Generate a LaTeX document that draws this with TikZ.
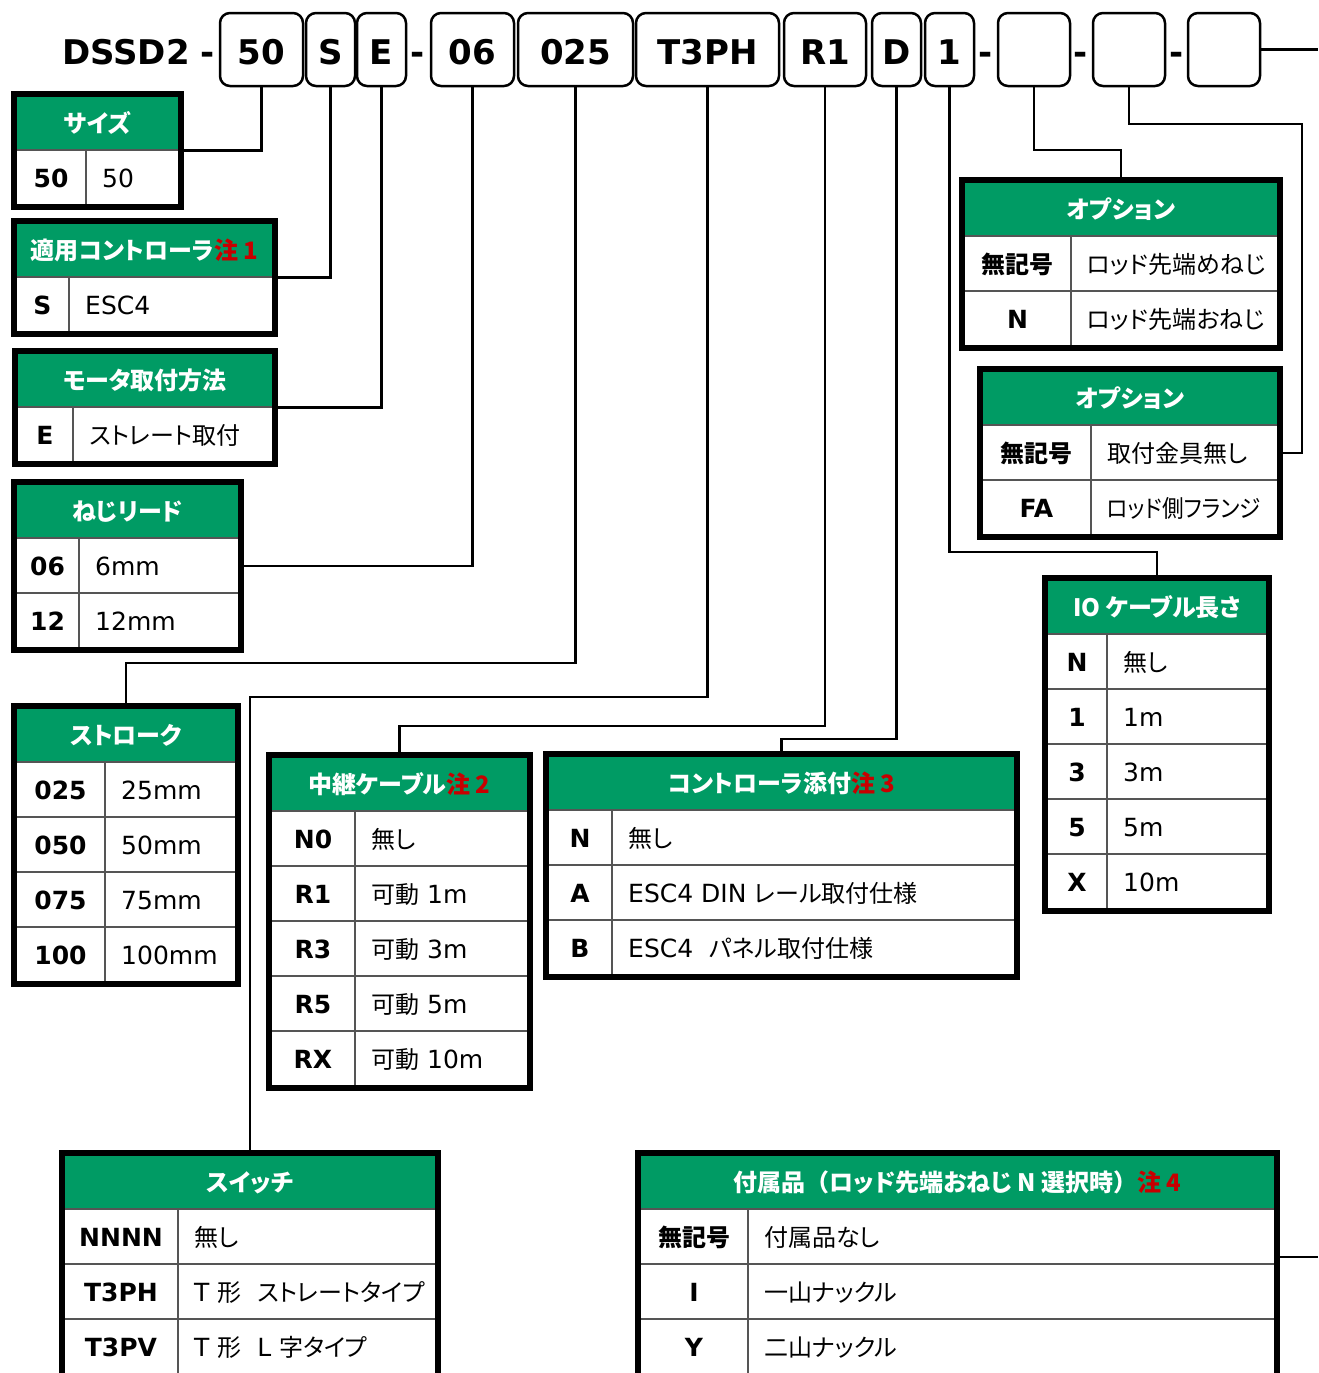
\documentclass[tikz,border=0pt]{standalone}
\usepackage{fontspec}
\usepackage{graphicx}
\setmainfont{DejaVu Sans}
\newfontfamily\jpf{Noto Sans CJK JP}[RawFeature=+palt]
\newfontfamily\jpw{Noto Sans CJK JP}
\newcommand\J[1]{{\jpf\fontsize{24}{28}\selectfont #1}}
\definecolor{hdrgreen}{RGB}{0,155,100}
\definecolor{notered}{RGB}{200,0,0}
\definecolor{gridgrey}{RGB}{85,85,85}
\newcommand\note[1]{\textcolor{notered}{#1}}
\tikzset{
  conn/.style={line width=2.5pt},
  codebox/.style={draw, line width=2.5pt, rounded corners=10pt, minimum height=73pt,
    inner sep=0pt, text height=33pt, text depth=4pt, font=\bfseries\fontsize{34}{40}\selectfont},
  toptext/.style={anchor=base, inner sep=0pt, font=\bfseries\fontsize{34}{40}\selectfont},
  hdrtext/.style={anchor=base, inner sep=0pt, text=white, font=\jpf\bfseries\fontsize{24}{28}\selectfont},
  codetext/.style={anchor=base, inner sep=0pt, font=\bfseries\fontsize{25}{30}\selectfont},
  desctext/.style={anchor=base west, inner sep=0pt, font=\fontsize{25}{30}\selectfont},
  rowline/.style={draw=gridgrey, line width=1.5pt},
  tabframe/.style={draw=none, inner sep=0pt, outer sep=0pt}
}
% #1 name, #2 x1, #3 ytop, #4 x2, #5 column separator x, #6 frame rows, #7 header, #8 rows
\newcommand\spectab[8]{%
  \pgfmathsetmacro\tbBot{#3+64+55*#6}%
  \pgfmathsetmacro\tbW{#4-#2}%
  \pgfmathsetmacro\tbH{\tbBot-#3}%
  \pgfmathsetmacro\tbCx{(#2+#4)/2}%
  \pgfmathsetmacro\tbCy{(#3+\tbBot)/2}%
  \fill[white] (#2,#3) rectangle (#4,\tbBot);
  \fill[hdrgreen] ({#2+5},{#3+5}) rectangle ({#4-5},{#3+59});
  \node[tabframe, minimum width=\tbW pt, minimum height=\tbH pt] (#1) at (\tbCx,\tbCy) {};
  \node[hdrtext] (#1-h) at (\tbCx,{#3+41}) {#7};
  \draw[rowline] ({#2+5},{#3+59}) -- ({#4-5},{#3+59});
  \foreach \kk in {1,...,#6} {
    \draw[rowline] ({#2+5},{#3+59+55*\kk}) -- ({#4-5},{#3+59+55*\kk});
  }
  \draw[rowline] (#5,{#3+59}) -- (#5,{\tbBot-5});
  \foreach \cc/\dd [count=\rr] in {#8} {
    \node[codetext] (#1-c\rr) at ({(#2+5+#5)/2},{#3+59+55*\rr-17.5}) {\cc};
    \node[desctext] (#1-d\rr) at ({#5+16},{#3+59+55*\rr-17.5}) {\dd};
  }
  \draw[line width=6pt] ({#2+3},{#3+3}) rectangle ({#4-3},{\tbBot-3});
}
\begin{document}
\begin{tikzpicture}[x=1pt,y=-1pt]
\useasboundingbox (0,0) rectangle (1318,1373);
\clip (0,0) rectangle (1318,1373);
\fill[white] (0,0) rectangle (1318,1373);

% ---- model code row ----
\node[toptext] (ttl) at (126,64) {DSSD2};
\node[toptext] (dash1) at (208,64) {-};
\node[codebox, minimum width=83pt] (b50) at (261.5,49.5) {50};
\node[codebox, minimum width=49pt] (bS) at (330.5,49.5) {S};
\node[codebox, minimum width=49pt] (bE) at (381.5,49.5) {E};
\node[toptext] (dash2) at (418,64) {-};
\node[codebox, minimum width=83pt] (b06) at (472.5,49.5) {06};
\node[codebox, minimum width=115pt] (b025) at (575.5,49.5) {025};
\node[codebox, minimum width=143pt] (bT3PH) at (707.5,49.5) {T3PH};
\node[codebox, minimum width=82pt] (bR1) at (825,49.5) {R1};
\node[codebox, minimum width=49pt] (bD) at (896.5,49.5) {D};
\node[codebox, minimum width=49pt] (b1) at (949.5,49.5) {1};
\node[toptext] (dash3) at (986,64) {-};
\node[codebox, minimum width=72pt] (bo1) at (1034,49.5) {};
\node[toptext] (dash4) at (1081,64) {-};
\node[codebox, minimum width=72pt] (bo2) at (1129,49.5) {};
\node[toptext] (dash5) at (1177,64) {-};
\node[codebox, minimum width=72pt] (bo3) at (1224,49.5) {};

% ---- tables ----
\spectab{tsize}{11}{91}{184}{86}{1}{サイズ}{50/50}
\spectab{tctl}{11}{218}{278}{69}{1}{適用コントローラ\note{注 1}}{S/ESC4}
\spectab{tmot}{12}{348}{278}{73}{1}{モータ取付方法}{E/\J{ストレート取付}}
\spectab{tlead}{11}{479}{244}{79}{2}{ねじリード}{06/6mm,12/12mm}
\spectab{tstr}{11}{703}{241}{105}{4}{ストローク}{025/25mm,050/50mm,075/75mm,100/100mm}
\spectab{trel}{266}{752}{533}{355}{5}{中継ケーブル\note{注 2}}{N0/\J{無し},R1/\J{可動} 1m,R3/\J{可動} 3m,R5/\J{可動} 5m,RX/\J{可動} 10m}
\spectab{tatt}{543}{751}{1020}{612}{3}{コントローラ添付\note{注 3}}{N/\J{無し},A/ESC4 DIN \J{レール取付仕様},B/ESC4\ \ \J{パネル取付仕様}}
\spectab{tio}{1042}{575}{1272}{1107}{5}{IO ケーブル長さ}{N/\J{無し},1/1m,3/3m,5/5m,X/10m}
\spectab{topt1}{959}{177}{1283}{1071}{2}{オプション}{\J{無記号}/\J{ロッド先端めねじ},N/\J{ロッド先端おねじ}}
\spectab{topt2}{977}{366}{1283}{1091}{2}{オプション}{\J{無記号}/\J{取付金具無し},FA/\scalebox{0.9}[1]{\J{ロッド側フランジ}}}
\spectab{tsw}{59}{1150}{441}{178}{4}{スイッチ}{NNNN/\J{無し},T3PH/T \J{形}\ \ \J{ストレートタイプ},T3PV/T \J{形}\ \ L \J{字タイプ}}
\spectab{tacc}{635}{1150}{1280}{748}{4}{付属品{\jpw （}ロッド先端おねじ N 選択時{\jpw ）}\note{注 4}}{\J{無記号}/\J{付属品なし},I/\J{一山ナックル},Y/\J{二山ナックル}}

% ---- bend levels and free ends ----
\coordinate (lv025) at (0,663);
\coordinate (lvT) at (0,697);
\coordinate (lvR) at (0,726);
\coordinate (lvD) at (0,739);
\coordinate (lv1) at (0,552);
\coordinate (lvo1) at (0,150);
\coordinate (bend2) at (1302,124);
\coordinate (topR) at (1318,49.5);
\coordinate (accR) at (1318,1257);

% ---- connectors ----
\draw[conn] (b50.south) |- (tsize.east);
\draw[conn] (bS.south) |- (tctl.east);
\draw[conn] (bE.south) |- (tmot.east);
\draw[conn] (b06.south) |- (tlead.east);
\draw[conn] (b025.south) -- (b025.south |- lv025) -| (tstr.north);
\draw[conn] (bT3PH.south) -- (bT3PH.south |- lvT) -| (tsw.north);
\draw[conn] (bR1.south) -- (bR1.south |- lvR) -| (trel.north);
\draw[conn] (bD.south) -- (bD.south |- lvD) -| (tatt.north);
\draw[conn] (b1.south) -- (b1.south |- lv1) -| (tio.north);
\draw[conn] (bo1.south) -- (bo1.south |- lvo1) -| (topt1.north);
\draw[conn] (bo2.south) |- (bend2) |- (topt2.east);
\draw[conn] (bo3.east) -- (topR);
\draw[conn] (tacc.east |- accR) -- (accR);
\end{tikzpicture}
\end{document}
